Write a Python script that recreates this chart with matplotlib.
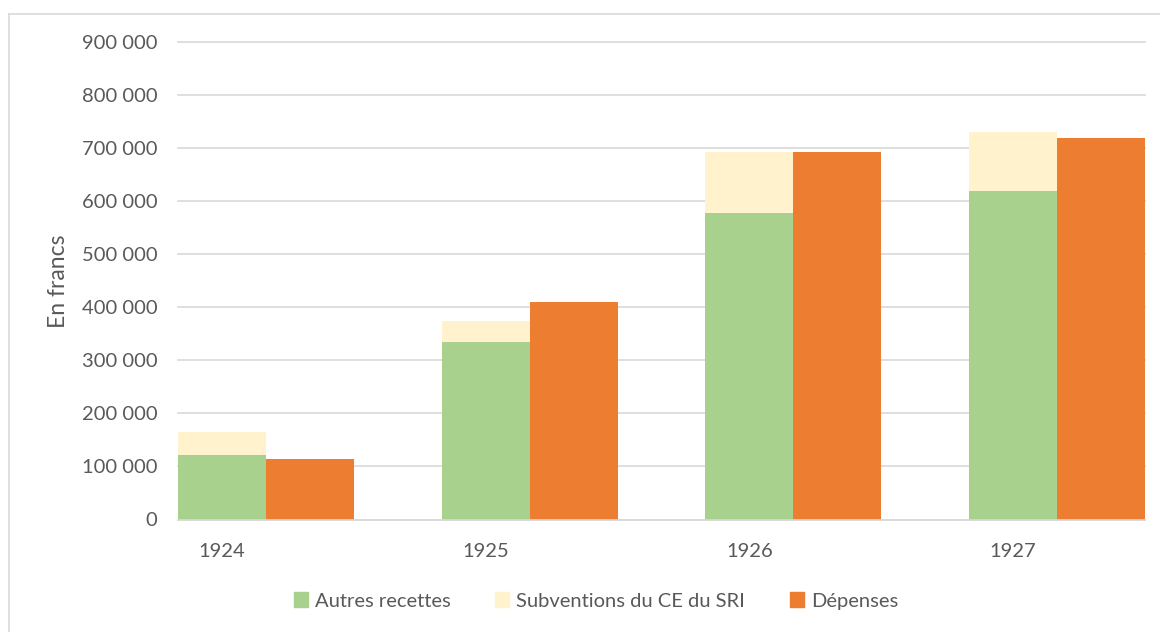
import matplotlib
matplotlib.use('Agg')
import matplotlib.pyplot as plt
from matplotlib.ticker import FuncFormatter, MultipleLocator
from matplotlib.lines import Line2D
from matplotlib.patches import Patch
import numpy as np

plt.rcParams['font.family'] = ['Lato', 'DejaVu Sans']

# data (francs)
years = ['1924', '1925', '1926', '1927']
autres_recettes = [121000, 335000, 578000, 619000]
subventions = [44000, 39000, 116000, 111000]
depenses = [115000, 410000, 694000, 720000]

green = '#A9D18E'
cream = '#FFF2CC'
orange = '#ED7D31'
grey_txt = '#595959'
grid_col = '#D9D9D9'

fig = plt.figure(figsize=(11.6, 6.32), dpi=100)
ax = fig.add_axes([178/1160, 1 - 519.5/632, (1145 - 178)/1160, (519.5 - 42.3)/632])

x = np.arange(len(years)) * 3
ax.bar(x + 0.5, autres_recettes, width=1, color=green, label='Autres recettes', zorder=2)
ax.bar(x + 0.5, subventions, width=1, bottom=autres_recettes, color=cream,
       label='Subventions du CE du SRI', zorder=2)
ax.bar(x + 1.5, depenses, width=1, color=orange, label='Dépenses', zorder=2)

ax.set_xlim(0, 11)
ax.set_ylim(0, 900000)
ax.yaxis.set_major_locator(MultipleLocator(100000))
ax.yaxis.set_major_formatter(FuncFormatter(lambda v, p: '{:,.0f}'.format(v).replace(',', ' ')))
ax.set_xticks(x + 0.5)
ax.set_xticklabels(years)

for s in ['top', 'right', 'left']:
    ax.spines[s].set_visible(False)
ax.spines['bottom'].set_color(grid_col)
ax.spines['bottom'].set_linewidth(1.2)
ax.yaxis.grid(True, color=grid_col, linewidth=1.2)
ax.set_axisbelow(True)
for gl in ax.yaxis.get_gridlines():
    gl.set_clip_on(False)

ax.tick_params(axis='both', length=0, labelsize=14.5, colors=grey_txt)
ax.tick_params(axis='y', pad=15)
ax.tick_params(axis='x', pad=17)
ax.set_ylabel('En francs', fontsize=16.5, color=grey_txt, labelpad=9)

handles = [Patch(color=green), Patch(color=cream), Patch(color=orange)]
fig.legend(handles, ['Autres recettes', 'Subventions du CE du SRI', 'Dépenses'],
           loc='center', bbox_to_anchor=(596/1160, 1 - 601/632), ncol=3, frameon=False,
           fontsize=14.5, labelcolor=grey_txt, handlelength=0.7, handleheight=0.7,
           handletextpad=0.35, columnspacing=2.2)

# chart border (left and top edges visible)
fig.add_artist(Line2D([9/1160, 9/1160], [0, 1 - 14/632], color=grid_col, linewidth=1.2))
fig.add_artist(Line2D([9/1160, 1], [1 - 14/632, 1 - 14/632], color=grid_col, linewidth=1.2))

fig.savefig('out.png', dpi=100)
